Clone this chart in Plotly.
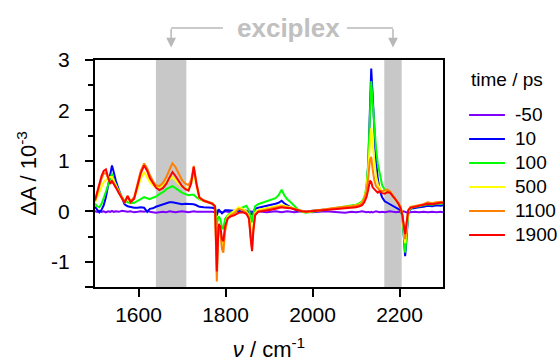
import plotly.graph_objects as go

# ---------------- data ----------------
wn_a = [1500, 1505, 1510, 1515, 1520, 1525, 1530, 1535, 1539, 1543, 1548, 1555, 1562, 1568, 1575, 1582, 1590, 1598, 1605, 1613,
        1620, 1626, 1633, 1640, 1648, 1656, 1664, 1671, 1678, 1685, 1692, 1700, 1708, 1715, 1721, 1727, 1733, 1740]
wn_b = [1750, 1760, 1770, 1776, 1780, 1784, 1788, 1792, 1795, 1799, 1805, 1812, 1820, 1830, 1840, 1848, 1854, 1858, 1861, 1864,
        1868, 1875, 1885, 1895, 1905, 1915, 1922, 1929, 1935, 1942]
wn_c = [1950, 1958, 1966, 1975, 1985, 2000, 2015, 2030, 2045, 2060, 2075, 2090, 2100, 2108, 2114, 2119, 2124, 2128]
wn_d = [2132, 2135, 2138, 2142, 2146, 2150, 2155, 2160, 2166, 2172, 2178, 2185, 2192, 2198, 2203, 2207, 2210, 2213, 2216, 2220,
        2225, 2235, 2245, 2255, 2265, 2275, 2285, 2295, 2300]
wavenumber = wn_a + wn_b + wn_c + wn_d

dA_m50 = ([0.00, -0.01, 0.01, -0.01, 0.00, -0.02, 0.00, -0.01, 0.01, -0.01, 0.00, -0.01, 0.01, 0.00, -0.01, 0.00, -0.02, -0.01, 0.00, -0.01,
           0.01, -0.01, -0.02, -0.03, -0.02, -0.01, -0.02, 0.00, -0.01, -0.02, -0.01, 0.00, -0.01, -0.02, -0.01, 0.00, -0.01, -0.01]
          + [-0.01, 0.00, -0.01, -0.02, -0.01, 0.00, -0.01, -0.02, -0.01, 0.00, -0.01, -0.02, -0.01, 0.00, -0.01, -0.02, -0.01, 0.00, -0.01, -0.02,
             -0.01, 0.00, -0.01, -0.02, -0.01, 0.00, -0.01, -0.02, -0.01, 0.00]
          + [-0.01, -0.02, -0.01, 0.00, -0.01, -0.02, -0.01, 0.00, -0.01, -0.02, -0.03, -0.01, -0.02, -0.01, 0.00, -0.01, -0.02, -0.01]
          + [-0.02, -0.01, -0.02, -0.01, 0.00, -0.01, -0.02, -0.01, -0.02, -0.01, 0.00, -0.01, -0.02, -0.01, -0.02, -0.01, 0.00, -0.01, -0.02, -0.01,
             -0.02, -0.01, -0.02, -0.01, -0.02, -0.01, -0.02, -0.01, -0.02])

dA_10 = ([0.09, 0.04, -0.02, 0.03, 0.12, 0.28, 0.50, 0.75, 0.91, 0.78, 0.60, 0.42, 0.25, 0.14, 0.10, 0.08, 0.07, 0.07, 0.08, 0.07,
          -0.01, 0.05, 0.06, 0.09, 0.11, 0.13, 0.16, 0.18, 0.18, 0.17, 0.15, 0.14, 0.15, 0.15, 0.15, 0.14, 0.12, 0.09]
         + [0.08, 0.08, 0.07, 0.05, -0.08, 0.04, 0.00, -0.04, -0.02, 0.02, 0.02, 0.01, 0.01, 0.01, 0.02, 0.01, -0.02, -0.05, -0.06, 0.00,
            0.05, 0.07, 0.09, 0.10, 0.12, 0.15, 0.17, 0.21, 0.16, 0.12]
         + [0.09, 0.04, 0.01, 0.00, -0.01, 0.01, 0.02, 0.03, 0.05, 0.06, 0.08, 0.09, 0.11, 0.13, 0.17, 0.25, 0.42, 0.90]
         + [2.00, 2.83, 2.35, 1.50, 1.00, 0.65, 0.40, 0.28, 0.20, 0.17, 0.14, 0.10, 0.07, 0.05, 0.02, -0.10, -0.45, -0.89, -0.55, -0.05,
            0.05, 0.07, 0.08, 0.09, 0.11, 0.10, 0.12, 0.11, 0.12])

dA_100 = ([0.15, 0.10, 0.08, 0.15, 0.26, 0.38, 0.50, 0.62, 0.75, 0.62, 0.52, 0.40, 0.28, 0.21, 0.18, 0.16, 0.17, 0.20, 0.24, 0.28,
           0.26, 0.24, 0.27, 0.29, 0.34, 0.38, 0.44, 0.47, 0.50, 0.46, 0.41, 0.37, 0.34, 0.32, 0.33, 0.33, 0.28, 0.24]
          + [0.21, 0.18, 0.15, 0.08, -0.25, -0.10, -0.15, -0.32, -0.35, -0.15, -0.08, -0.03, 0.00, 0.05, 0.08, 0.11, 0.02, -0.15, -0.22, -0.05,
             0.10, 0.14, 0.17, 0.19, 0.22, 0.26, 0.32, 0.43, 0.32, 0.24]
          + [0.18, 0.10, 0.04, -0.01, -0.03, -0.01, 0.01, 0.03, 0.05, 0.07, 0.09, 0.11, 0.13, 0.16, 0.20, 0.28, 0.48, 0.95]
          + [1.90, 2.58, 2.20, 1.70, 1.25, 0.95, 0.70, 0.52, 0.43, 0.40, 0.38, 0.30, 0.22, 0.15, 0.06, -0.15, -0.50, -0.82, -0.50, -0.03,
             0.06, 0.09, 0.10, 0.12, 0.14, 0.13, 0.15, 0.15, 0.16])

dA_500 = ([0.18, 0.28, 0.38, 0.50, 0.58, 0.62, 0.65, 0.68, 0.68, 0.60, 0.50, 0.37, 0.25, 0.18, 0.25, 0.18, 0.25, 0.45, 0.65, 0.78,
           0.68, 0.58, 0.52, 0.49, 0.48, 0.52, 0.58, 0.64, 0.68, 0.62, 0.54, 0.49, 0.46, 0.45, 0.55, 0.81, 0.50, 0.25]
          + [0.20, 0.18, 0.16, 0.10, -1.00, -0.25, -0.35, -0.62, -0.68, -0.32, -0.10, -0.05, 0.00, 0.08, 0.05, 0.00, -0.10, -0.40, -0.55, -0.28,
             -0.03, 0.03, 0.05, 0.07, 0.09, 0.10, 0.11, 0.12, 0.11, 0.10]
          + [0.08, 0.05, 0.02, 0.00, -0.02, 0.00, 0.02, 0.04, 0.06, 0.08, 0.09, 0.10, 0.12, 0.14, 0.18, 0.26, 0.45, 0.80]
          + [1.35, 1.65, 1.35, 0.95, 0.70, 0.55, 0.45, 0.40, 0.40, 0.42, 0.38, 0.30, 0.22, 0.15, 0.07, -0.10, -0.40, -0.63, -0.38, 0.00,
             0.07, 0.10, 0.11, 0.13, 0.16, 0.15, 0.17, 0.17, 0.18])

dA_1100 = ([0.20, 0.36, 0.52, 0.65, 0.75, 0.76, 0.66, 0.56, 0.60, 0.56, 0.48, 0.37, 0.26, 0.19, 0.31, 0.20, 0.28, 0.55, 0.80, 0.95,
            0.85, 0.72, 0.60, 0.52, 0.50, 0.56, 0.68, 0.82, 0.95, 0.88, 0.75, 0.62, 0.55, 0.52, 0.62, 0.90, 0.58, 0.28]
           + [0.22, 0.19, 0.16, 0.10, -1.39, -0.30, -0.40, -0.75, -0.82, -0.40, -0.14, -0.08, -0.04, 0.05, 0.02, -0.03, -0.12, -0.50, -0.72, -0.35,
              -0.06, 0.00, 0.02, 0.04, 0.06, 0.08, 0.09, 0.10, 0.09, 0.08]
           + [0.07, 0.05, 0.03, 0.01, -0.01, 0.01, 0.02, 0.04, 0.06, 0.08, 0.09, 0.10, 0.11, 0.13, 0.17, 0.25, 0.40, 0.65]
           + [1.02, 1.08, 0.85, 0.62, 0.50, 0.45, 0.41, 0.40, 0.41, 0.43, 0.40, 0.32, 0.24, 0.16, 0.08, -0.08, -0.33, -0.55, -0.30, 0.02,
              0.09, 0.11, 0.12, 0.14, 0.18, 0.16, 0.18, 0.19, 0.19])

dA_1900 = ([0.22, 0.40, 0.55, 0.70, 0.80, 0.83, 0.68, 0.55, 0.60, 0.55, 0.47, 0.36, 0.25, 0.17, 0.30, 0.18, 0.25, 0.50, 0.75, 0.91,
            0.80, 0.66, 0.55, 0.47, 0.42, 0.46, 0.55, 0.68, 0.78, 0.70, 0.60, 0.50, 0.44, 0.41, 0.55, 0.88, 0.55, 0.27]
           + [0.21, 0.18, 0.15, 0.10, -1.19, -0.25, -0.30, -0.55, -0.59, -0.30, -0.14, -0.10, -0.08, -0.03, -0.02, -0.05, -0.15, -0.55, -0.79, -0.40,
              -0.08, -0.01, 0.00, 0.01, 0.03, 0.05, 0.06, 0.08, 0.07, 0.07]
           + [0.06, 0.04, 0.02, 0.00, -0.01, 0.00, 0.01, 0.02, 0.03, 0.05, 0.06, 0.07, 0.08, 0.10, 0.12, 0.18, 0.28, 0.42]
           + [0.61, 0.58, 0.48, 0.44, 0.40, 0.37, 0.40, 0.36, 0.35, 0.38, 0.37, 0.30, 0.22, 0.14, 0.05, -0.10, -0.30, -0.45, -0.25, 0.02,
              0.07, 0.09, 0.10, 0.12, 0.15, 0.14, 0.16, 0.17, 0.17])

series_names = ["-50", "10", "100", "500", "1100", "1900"]
series_values = [dA_m50, dA_10, dA_100, dA_500, dA_1100, dA_1900]
series_colors = ["#7f00ff", "#0000ff", "#00ff00", "#ffff00", "#ff8000", "#ff0000"]

exciplex_bands = [(1640, 1710), (2165, 2205)]
x_ticks = [1600, 1800, 2000, 2200]
y_ticks = [-1.5, -1, 0, 1, 2, 3]
y_ticklabels = ["", "-1", "0", "1", "2", "3"]
y_minor = [-0.5, 0.5, 1.5, 2.5]

for s in series_values:
    assert len(s) == len(wavenumber), len(s)

FONT = "Liberation Sans, Arial, sans-serif"

fig = go.Figure()
for name, ys, col in zip(series_names, series_values, series_colors):
    fig.add_trace(go.Scatter(x=wavenumber, y=ys, mode="lines", name=name,
                             line=dict(color=col, width=2), showlegend=False))

shapes = []
for b0, b1 in exciplex_bands:
    shapes.append(dict(type="rect", xref="x", yref="paper", x0=b0, x1=b1, y0=0, y1=1,
                       fillcolor="#c8c8c8", line=dict(width=0), layer="below"))

# bracket over the bands
bc = "#b8b8b8"
yb = 1.141
centers = [(b0 + b1) / 2 for b0, b1 in exciplex_bands]
shapes.append(dict(type="line", xref="x", yref="paper", x0=centers[0], x1=1794, y0=yb, y1=yb,
                   line=dict(color=bc, width=1.5)))
shapes.append(dict(type="line", xref="x", yref="paper", x0=2079, x1=centers[1], y0=yb, y1=yb,
                   line=dict(color=bc, width=1.5)))

annotations = []
for c in centers:
    annotations.append(dict(x=c, y=1.055, xref="x", yref="paper", ax=0, ay=-20, axref="pixel", ayref="pixel",
                            text="", showarrow=True, arrowhead=2, arrowsize=1.3, arrowwidth=1.5, arrowcolor=bc))
annotations.append(dict(x=0.556, y=yb, xref="paper", yref="paper", text="<b>exciplex</b>", showarrow=False,
                        font=dict(family=FONT, size=26, color="#c0c0c0"), xanchor="center", yanchor="middle"))

# legend (drawn manually)
leg_x0, leg_x1, leg_xt = 1.075, 1.178, 1.201
leg_title_y = 0.912
leg_y0, leg_step = 0.758, 24 / 227
annotations.append(dict(x=leg_x0, y=leg_title_y, xref="paper", yref="paper", text="time / ps", showarrow=False,
                        xanchor="left", yanchor="middle", font=dict(family=FONT, size=19, color="black")))
for i, (name, col) in enumerate(zip(series_names, series_colors)):
    yy = leg_y0 - i * leg_step
    shapes.append(dict(type="line", xref="paper", yref="paper", x0=leg_x0, x1=leg_x1, y0=yy, y1=yy,
                       line=dict(color=col, width=2)))
    annotations.append(dict(x=leg_xt, y=yy, xref="paper", yref="paper", text=name, showarrow=False,
                            xanchor="left", yanchor="middle", font=dict(family=FONT, size=19, color="black")))

fig.update_layout(
    width=559, height=362,
    margin=dict(l=95, r=116, t=60, b=75),
    paper_bgcolor="white", plot_bgcolor="white",
    font=dict(family=FONT, size=20, color="black"),
    shapes=shapes, annotations=annotations,
    showlegend=False,
)
fig.update_xaxes(range=[1500, 2300], tickmode="array", tickvals=x_ticks, ticks="outside", ticklen=8, tickwidth=1.5,
                 tickcolor="black", showline=True, linewidth=2, linecolor="black", mirror=True, automargin=False,
                 showgrid=False, zeroline=False, tickfont=dict(size=21),
                 title=dict(text="<i>ν</i> / cm<sup>-1</sup>", font=dict(size=22), standoff=34))
fig.update_yaxes(range=[-1.5, 3], tickmode="array", tickvals=y_ticks, ticktext=y_ticklabels, ticks="outside",
                 ticklen=8, tickwidth=1.5, tickcolor="black", showline=True, linewidth=2, linecolor="black", mirror=True,
                 automargin=False, showgrid=False, zeroline=False, tickfont=dict(size=21), ticklabelstandoff=11,
                 minor=dict(tickvals=y_minor, ticks="outside", ticklen=5, tickwidth=1.5, tickcolor="black", showgrid=False),
                 title=dict(text="ΔA / 10<sup>-3</sup>", font=dict(size=22), standoff=8))

# remove the default page margin so the 559x362 figure fills the window exactly
fig.write_html("out.html", config={"displayModeBar": False},
               post_script="document.body.style.margin='0';document.body.style.overflow='hidden';")
